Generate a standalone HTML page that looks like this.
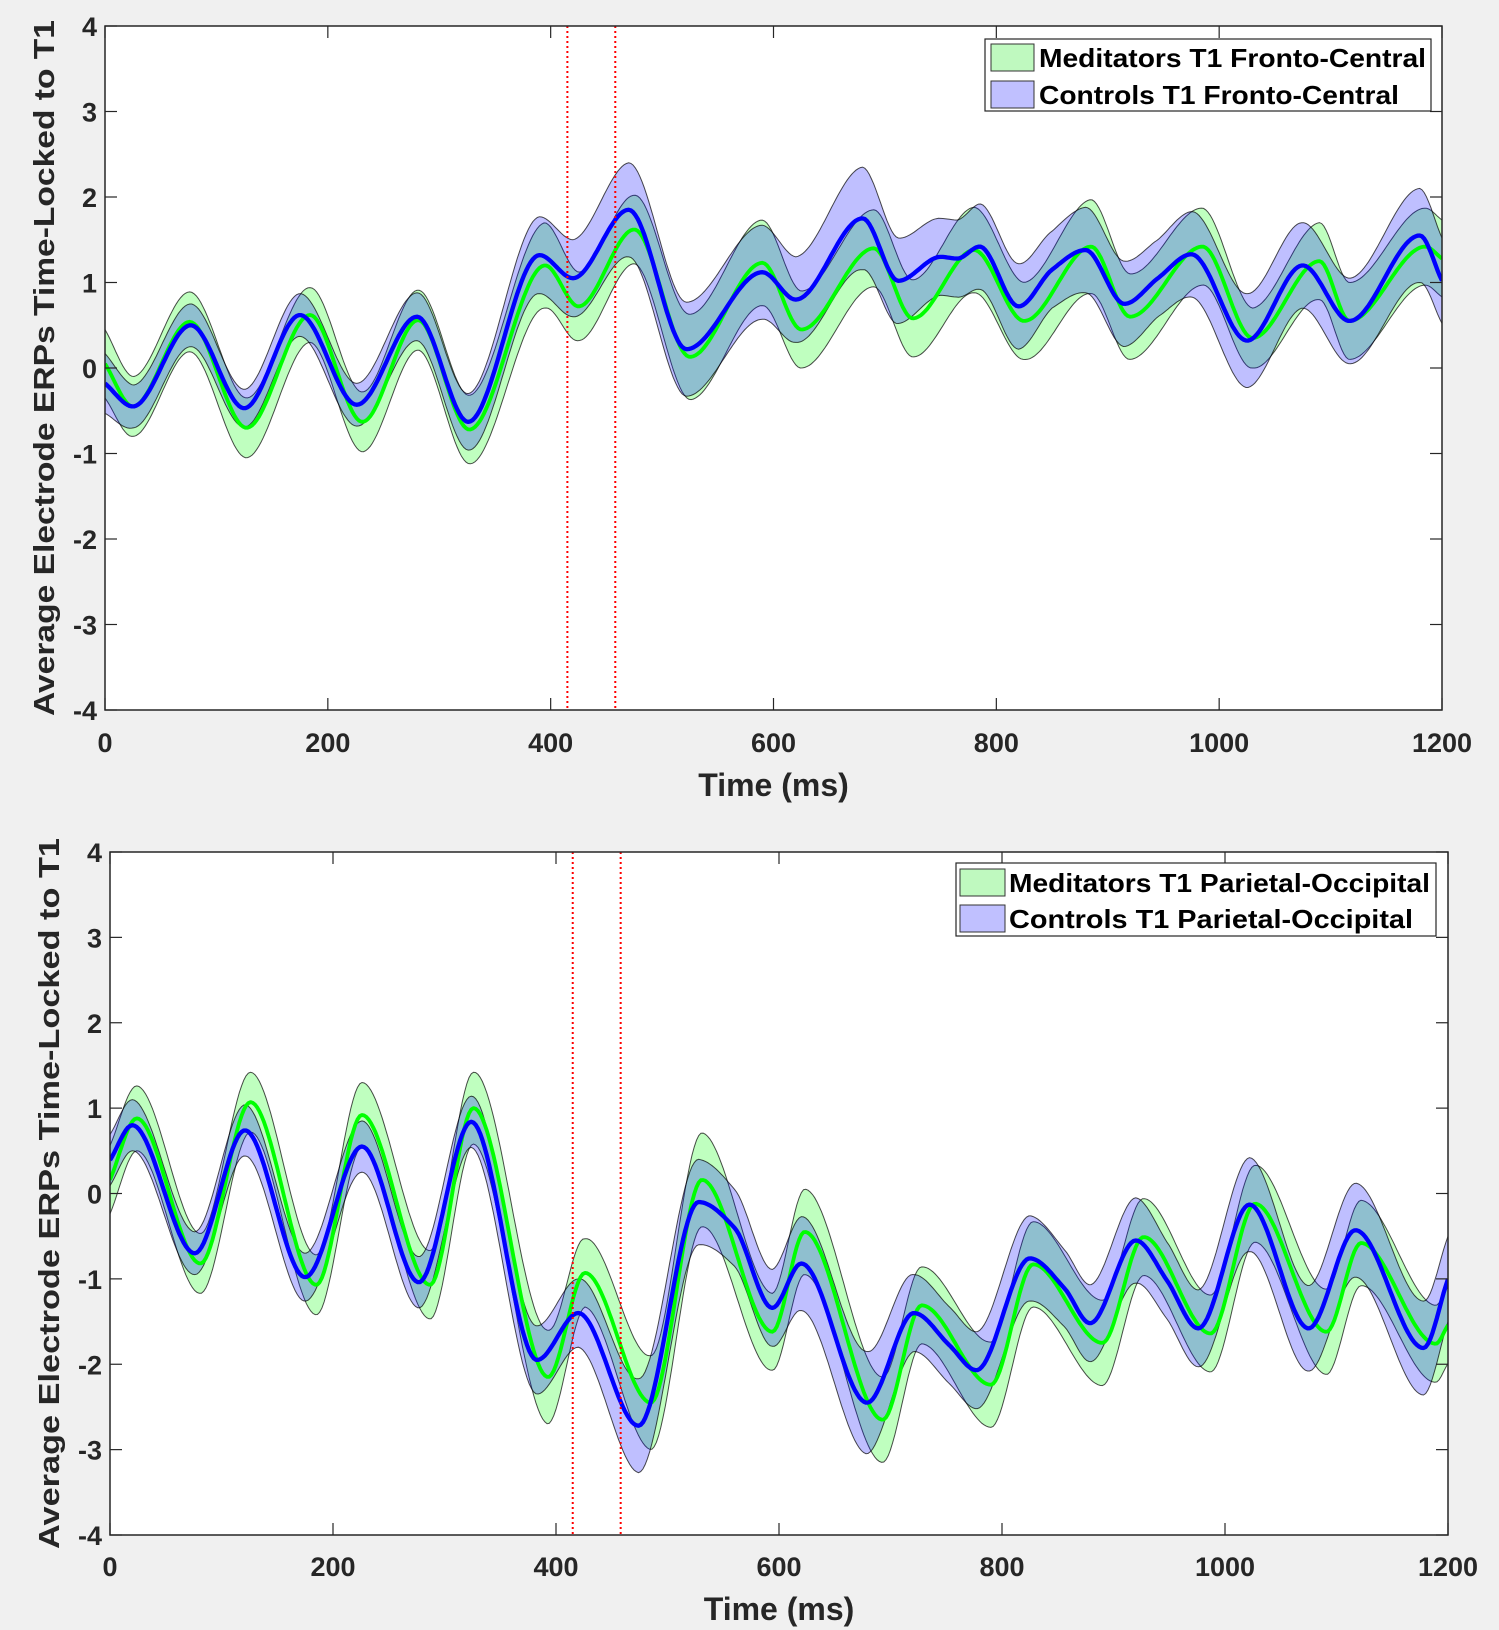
<!DOCTYPE html>
<html><head><meta charset="utf-8"><style>
html,body{margin:0;padding:0;background:#f0f0f0;}
svg{display:block;font-family:"Liberation Sans",Arial,sans-serif;font-weight:bold;}
</style></head><body>
<svg id="fig" width="1499" height="1630" viewBox="0 0 1499 1630" xmlns="http://www.w3.org/2000/svg">
<rect x="0" y="0" width="1499" height="1630" fill="#f0f0f0"/>
</svg>
<script>
// ---- data: top panel (Fronto-Central) ----
const topTimesG=[0,25,76,127,184,231,281,327,395,425,475,525,590,625,690,725,780,825,885,920,985,1030,1090,1117,1185,1200];
const topMeanG=[0.05,-0.45,0.54,-0.7,0.62,-0.63,0.56,-0.72,1.2,0.72,1.62,0.13,1.23,0.45,1.4,0.58,1.38,0.55,1.42,0.6,1.42,0.35,1.25,0.55,1.42,1.28];
const topHwG=[0.4,0.35,0.35,0.35,0.32,0.35,0.35,0.4,0.5,0.4,0.4,0.5,0.5,0.45,0.45,0.45,0.5,0.45,0.55,0.5,0.45,0.35,0.45,0.45,0.45,0.45];
const topTimesB=[0,25,77,125,175,226,280,326,390,420,470,522,590,620,680,712,750,765,785,820,850,880,915,945,975,1025,1075,1117,1180,1200];
const topMeanB=[-0.18,-0.45,0.5,-0.47,0.62,-0.43,0.6,-0.63,1.32,1.05,1.85,0.22,1.12,0.8,1.75,1.02,1.3,1.28,1.42,0.72,1.15,1.38,0.75,1.05,1.33,0.32,1.2,0.55,1.55,1.02];
const topHwB=[0.35,0.25,0.25,0.22,0.25,0.25,0.28,0.33,0.45,0.45,0.55,0.55,0.55,0.5,0.6,0.5,0.45,0.45,0.5,0.5,0.45,0.5,0.5,0.45,0.5,0.55,0.5,0.5,0.55,0.5];
// ---- data: bottom panel (Parietal-Occipital) ----
const botTimesG=[0,24,81,126,185,226,287,326,393,426,485,531,594,623,693,728,790,828,890,927,987,1027,1091,1122,1189,1200];
const botMeanG=[0.16,0.88,-0.82,1.07,-1.07,0.92,-1.07,1.0,-2.15,-0.93,-2.45,0.16,-1.62,-0.45,-2.65,-1.31,-2.24,-0.83,-1.75,-0.51,-1.64,-0.12,-1.62,-0.58,-1.76,-1.54];
const botHwG=[0.4,0.38,0.35,0.35,0.35,0.38,0.4,0.42,0.55,0.4,0.55,0.55,0.45,0.5,0.5,0.45,0.5,0.5,0.5,0.45,0.45,0.45,0.5,0.5,0.45,0.45];
const botTimesB=[0,20,76,121,175,226,277,324,383,420,474,528,560,594,620,679,721,753,777,825,856,879,920,948,976,1022,1075,1117,1178,1200];
const botMeanB=[0.39,0.8,-0.7,0.74,-0.98,0.55,-1.04,0.84,-1.95,-1.4,-2.72,-0.1,-0.4,-1.34,-0.82,-2.45,-1.4,-1.78,-2.07,-0.76,-1.11,-1.52,-0.55,-1.02,-1.58,-0.13,-1.58,-0.43,-1.81,-1.0];
const botHwB=[0.3,0.3,0.25,0.3,0.28,0.3,0.3,0.3,0.4,0.4,0.55,0.5,0.45,0.45,0.55,0.6,0.45,0.45,0.45,0.5,0.45,0.45,0.5,0.45,0.45,0.55,0.5,0.55,0.55,0.5];
const xTicks=[0,200,400,600,800,1000,1200];
const yTicks=[-4,-3,-2,-1,0,1,2,3,4];
const markerTimes=[415,458];
const topLegend=["Meditators T1 Fronto-Central","Controls T1 Fronto-Central"];
const botLegend=["Meditators T1 Parietal-Occipital","Controls T1 Parietal-Occipital"];

const NS="http://www.w3.org/2000/svg";
const svg=document.getElementById('fig');
function mk(tag,attrs,parent){const e=document.createElementNS(NS,tag);for(const k in attrs)e.setAttribute(k,attrs[k]);(parent||svg).appendChild(e);return e;}

function monotone(xs,ys){
  const n=xs.length,d=[],m=new Array(n);
  for(let i=0;i<n-1;i++)d.push((ys[i+1]-ys[i])/(xs[i+1]-xs[i]));
  m[0]=d[0];m[n-1]=d[n-2];
  for(let i=1;i<n-1;i++){if(d[i-1]*d[i]<=0)m[i]=0;else{const h0=xs[i]-xs[i-1],h1=xs[i+1]-xs[i];m[i]=3*(h0+h1)/((2*h1+h0)/d[i-1]+(h1+2*h0)/d[i]);}}
  return function(x){let i=0;while(i<n-2&&x>xs[i+1])i++;const h=xs[i+1]-xs[i],t=(x-xs[i])/h,t2=t*t,t3=t2*t;
    return (2*t3-3*t2+1)*ys[i]+(t3-2*t2+t)*h*m[i]+(-2*t3+3*t2)*ys[i+1]+(t3-t2)*h*m[i+1];};
}
function linear(xs,ys){return function(x){let i=0;while(i<xs.length-2&&x>xs[i+1])i++;const t=(x-xs[i])/(xs[i+1]-xs[i]);return ys[i]+t*(ys[i+1]-ys[i]);};}

function panel(cfg){
  const {x0,x1,y0,y1}=cfg;
  const sx=t=>x0+(t/1200)*(x1-x0);
  const sy=v=>y0+(4-v)/8*(y1-y0);
  const g=mk('g',{});
  
  
  mk('rect',{x:x0,y:y0,width:x1-x0,height:y1-y0,fill:'#fff'},g);
  const clipId=cfg.name+'-clip';
  const cp=mk('clipPath',{id:clipId},g);mk('rect',{x:x0,y:y0,width:x1-x0,height:y1-y0},cp);
  const data=mk('g',{'clip-path':'url(#'+clipId+')'},g);
  function series(times,mean,hw,fill,line,lw,nm){
    const f=monotone(times,mean),h=linear(times,hw);
    let up=[],lo=[],mid=[];
    for(let t=0;t<=1200;t+=2){const v=f(t),w=h(t);up.push(sx(t).toFixed(1)+','+sy(v+w).toFixed(1));lo.push(sx(t).toFixed(1)+','+sy(v-w).toFixed(1));mid.push(sx(t).toFixed(1)+','+sy(v).toFixed(1));}
    const band=mk('polygon',{points:up.concat(lo.reverse()).join(' '),fill:fill,'fill-opacity':0.25,stroke:'#000','stroke-opacity':0.7,'stroke-width':1},data);
    
    
    return {mid,line,lw,nm};
  }
  const sg=series(cfg.tg,cfg.mg,cfg.hg,'#00ff00','#00ff00',3.8,'meditators');
  const sb=series(cfg.tb,cfg.mb,cfg.hb,'#0000ff','#0000ff',4.3,'controls');
  [sg,sb].forEach(s=>{const p=mk('polyline',{points:s.mid.join(' '),fill:'none',stroke:s.line,'stroke-width':s.lw,'stroke-linejoin':'round'},data);
    
    });
  markerTimes.forEach(t=>{const l=mk('line',{x1:sx(t),x2:sx(t),y1:y0,y2:y1,stroke:'#ff0000','stroke-width':2,'stroke-dasharray':'2,3'},g);
    
    });
  mk('rect',{x:x0,y:y0,width:x1-x0,height:y1-y0,fill:'none',stroke:'#262626','stroke-width':1.5},g);
  xTicks.forEach(t=>{const x=sx(t);
    mk('line',{x1:x,x2:x,y1:y1,y2:y1-12,stroke:'#262626','stroke-width':1.2},g);
    mk('line',{x1:x,x2:x,y1:y0,y2:y0+12,stroke:'#262626','stroke-width':1.2},g);
    const tx=mk('text',{x:x,y:cfg.xlabY,'text-anchor':'middle','font-size':27,fill:'#262626'},g);tx.textContent=t;
    
    });
  yTicks.forEach(v=>{const y=sy(v);
    mk('line',{x1:x0,x2:x0+12,y1:y,y2:y,stroke:'#262626','stroke-width':1.2},g);
    mk('line',{x1:x1,x2:x1-12,y1:y,y2:y,stroke:'#262626','stroke-width':1.2},g);
    const tx=mk('text',{x:x0-8,y:y+10,'text-anchor':'end','font-size':27,fill:'#262626'},g);tx.textContent=v;
    
    });
  const xt=mk('text',{x:(x0+x1)/2,y:cfg.xtitleY,'text-anchor':'middle','font-size':32,fill:'#262626'},g);xt.textContent='Time (ms)';
  
  
  const cy=(y0+y1)/2;
  const yt=mk('text',{x:0,y:0,transform:'translate('+cfg.ytitleX+','+cy+') rotate(-90)','text-anchor':'middle','font-size':29,fill:'#262626',textLength:cfg.ytitleLen,lengthAdjust:'spacingAndGlyphs'},g);
  yt.textContent='Average Electrode ERPs Time-Locked to T1';
  
  
  const L=cfg.leg;
  const lg=mk('g',{},g);
  
  
  mk('rect',{x:L.x,y:L.y,width:L.w,height:L.h,fill:'#fff',stroke:'#262626','stroke-width':1.2},lg);
  [['#bff9bf','meditators'],['#c0c0ff','controls']].forEach((c,i)=>{
    const ry=L.rows[i];
    mk('rect',{x:L.sx,y:ry,width:L.sw,height:27,fill:c[0],stroke:'#333','stroke-width':1},lg);
    const tx=mk('text',{x:L.tx,y:ry+23,'font-size':26,fill:'#000',textLength:L.lens[i],lengthAdjust:'spacingAndGlyphs'},lg);tx.textContent=cfg.legText[i];
    
    
  });
}
panel({name:'fronto-central-panel',x0:105,x1:1442,y0:26,y1:710,tg:topTimesG,mg:topMeanG,hg:topHwG,tb:topTimesB,mb:topMeanB,hb:topHwB,
  xlabY:752,xtitleY:796,ytitleX:54,ytitleLen:696,legText:topLegend,
  leg:{x:985,y:39,w:446,h:72,sx:991,sw:43,rows:[44,81],tx:1039,lens:[387,360]}});
panel({name:'parietal-occipital-panel',x0:110,x1:1448,y0:852,y1:1535,tg:botTimesG,mg:botMeanG,hg:botHwG,tb:botTimesB,mb:botMeanB,hb:botHwB,
  xlabY:1576,xtitleY:1620,ytitleX:59,ytitleLen:711,legText:botLegend,
  leg:{x:956,y:863,w:480,h:73,sx:960,sw:45,rows:[869,905],tx:1009,lens:[421,404]}});
</script>
</body></html>
